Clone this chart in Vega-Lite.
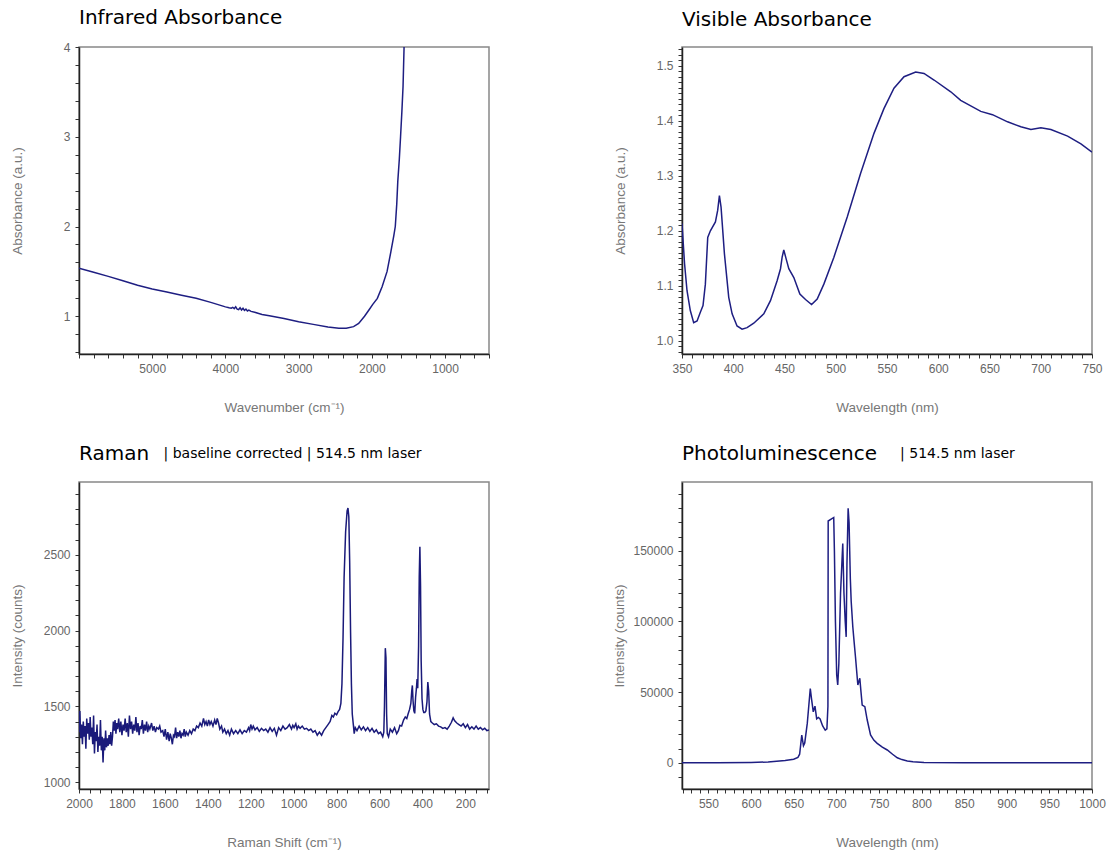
{
"$schema": "https://vega.github.io/schema/vega-lite/v6.json",
"background": "white",
"padding": {"left": 9, "top": 7, "right": 4, "bottom": 4},
"columns": 2,
"bounds": "flush",
"spacing": {"row": 128, "column": 193},
"datasets": {
"ir": [
{"wavenumber":6000,"absorbance":1.535},{"wavenumber":5800,"absorbance":1.49},{"wavenumber":5600,"absorbance":1.445},{"wavenumber":5400,"absorbance":1.395},{"wavenumber":5200,"absorbance":1.345},{"wavenumber":5000,"absorbance":1.305},{"wavenumber":4800,"absorbance":1.27},{"wavenumber":4600,"absorbance":1.235},{"wavenumber":4400,"absorbance":1.2},{"wavenumber":4200,"absorbance":1.155},{"wavenumber":4000,"absorbance":1.105},{"wavenumber":3950,"absorbance":1.095},{"wavenumber":3920,"absorbance":1.09},{"wavenumber":3900,"absorbance":1.1},{"wavenumber":3880,"absorbance":1.085},{"wavenumber":3860,"absorbance":1.105},{"wavenumber":3840,"absorbance":1.08},{"wavenumber":3820,"absorbance":1.075},{"wavenumber":3800,"absorbance":1.095},{"wavenumber":3780,"absorbance":1.07},{"wavenumber":3760,"absorbance":1.09},{"wavenumber":3740,"absorbance":1.065},{"wavenumber":3720,"absorbance":1.08},{"wavenumber":3700,"absorbance":1.06},{"wavenumber":3680,"absorbance":1.07},{"wavenumber":3650,"absorbance":1.055},{"wavenumber":3600,"absorbance":1.045},{"wavenumber":3500,"absorbance":1.02},{"wavenumber":3400,"absorbance":1.005},{"wavenumber":3200,"absorbance":0.975},{"wavenumber":3000,"absorbance":0.94},{"wavenumber":2800,"absorbance":0.91},{"wavenumber":2600,"absorbance":0.88},{"wavenumber":2450,"absorbance":0.866},{"wavenumber":2350,"absorbance":0.866},{"wavenumber":2250,"absorbance":0.885},{"wavenumber":2180,"absorbance":0.92},{"wavenumber":2100,"absorbance":1.0},{"wavenumber":2040,"absorbance":1.07},{"wavenumber":1990,"absorbance":1.13},{"wavenumber":1925,"absorbance":1.2},{"wavenumber":1860,"absorbance":1.33},{"wavenumber":1792,"absorbance":1.5},{"wavenumber":1740,"absorbance":1.72},{"wavenumber":1700,"absorbance":1.9},{"wavenumber":1680,"absorbance":2.0},{"wavenumber":1660,"absorbance":2.25},{"wavenumber":1646,"absorbance":2.5},{"wavenumber":1625,"absorbance":2.75},{"wavenumber":1608,"absorbance":3.0},{"wavenumber":1590,"absorbance":3.28},{"wavenumber":1574,"absorbance":3.56},{"wavenumber":1560,"absorbance":4.0}
],
"vis": [
{"wavelength":350,"absorbance":1.213},{"wavelength":352.5,"absorbance":1.14},{"wavelength":354.9,"absorbance":1.091},{"wavelength":358.1,"absorbance":1.055},{"wavelength":361.4,"absorbance":1.033},{"wavelength":364.7,"absorbance":1.036},{"wavelength":367.9,"absorbance":1.052},{"wavelength":370.5,"absorbance":1.064},{"wavelength":372.8,"absorbance":1.103},{"wavelength":375.1,"absorbance":1.188},{"wavelength":377.7,"absorbance":1.2},{"wavelength":382.6,"absorbance":1.216},{"wavelength":384.8,"absorbance":1.237},{"wavelength":386.5,"absorbance":1.264},{"wavelength":388.1,"absorbance":1.243},{"wavelength":391.4,"absorbance":1.158},{"wavelength":395.6,"absorbance":1.079},{"wavelength":398.9,"absorbance":1.049},{"wavelength":403.7,"absorbance":1.027},{"wavelength":408.6,"absorbance":1.021},{"wavelength":413.5,"absorbance":1.024},{"wavelength":420,"absorbance":1.032},{"wavelength":429.8,"absorbance":1.049},{"wavelength":436.3,"absorbance":1.073},{"wavelength":442.8,"absorbance":1.109},{"wavelength":446.1,"absorbance":1.131},{"wavelength":447.7,"absorbance":1.152},{"wavelength":449.3,"absorbance":1.165},{"wavelength":451.6,"absorbance":1.149},{"wavelength":454.2,"absorbance":1.131},{"wavelength":459.1,"absorbance":1.115},{"wavelength":465,"absorbance":1.085},{"wavelength":470.5,"absorbance":1.075},{"wavelength":476.4,"absorbance":1.066},{"wavelength":481.9,"absorbance":1.076},{"wavelength":488.4,"absorbance":1.103},{"wavelength":498.2,"absorbance":1.152},{"wavelength":511.2,"absorbance":1.225},{"wavelength":524.2,"absorbance":1.304},{"wavelength":537.3,"absorbance":1.377},{"wavelength":547,"absorbance":1.422},{"wavelength":556.8,"absorbance":1.459},{"wavelength":566.6,"absorbance":1.48},{"wavelength":578,"absorbance":1.4885},{"wavelength":586.1,"absorbance":1.486},{"wavelength":595.9,"absorbance":1.474},{"wavelength":612.2,"absorbance":1.4526},{"wavelength":621.9,"absorbance":1.437},{"wavelength":641.5,"absorbance":1.417},{"wavelength":652.9,"absorbance":1.411},{"wavelength":667.6,"absorbance":1.398},{"wavelength":680.6,"absorbance":1.389},{"wavelength":690.4,"absorbance":1.384},{"wavelength":700.1,"absorbance":1.387},{"wavelength":709.9,"absorbance":1.384},{"wavelength":726.2,"absorbance":1.372},{"wavelength":739.2,"absorbance":1.358},{"wavelength":750,"absorbance":1.343}
],
"raman": [
{"shift":2000,"counts":1330},{"shift":1996,"counts":1470},{"shift":1992,"counts":1290},{"shift":1988,"counts":1380},{"shift":1984,"counts":1250},{"shift":1980,"counts":1400},{"shift":1976,"counts":1300},{"shift":1972,"counts":1370},{"shift":1968,"counts":1220},{"shift":1964,"counts":1420},{"shift":1960,"counts":1320},{"shift":1956,"counts":1390},{"shift":1952,"counts":1280},{"shift":1948,"counts":1430},{"shift":1944,"counts":1300},{"shift":1940,"counts":1360},{"shift":1936,"counts":1250},{"shift":1932,"counts":1440},{"shift":1928,"counts":1190},{"shift":1924,"counts":1330},{"shift":1920,"counts":1270},{"shift":1916,"counts":1380},{"shift":1912,"counts":1200},{"shift":1908,"counts":1300},{"shift":1904,"counts":1240},{"shift":1900,"counts":1410},{"shift":1896,"counts":1210},{"shift":1892,"counts":1300},{"shift":1888,"counts":1130},{"shift":1884,"counts":1290},{"shift":1880,"counts":1210},{"shift":1876,"counts":1340},{"shift":1872,"counts":1230},{"shift":1868,"counts":1290},{"shift":1864,"counts":1240},{"shift":1860,"counts":1310},{"shift":1856,"counts":1250},{"shift":1852,"counts":1330},{"shift":1848,"counts":1240},{"shift":1844,"counts":1300},{"shift":1840,"counts":1400},{"shift":1836,"counts":1340},{"shift":1832,"counts":1410},{"shift":1828,"counts":1320},{"shift":1824,"counts":1390},{"shift":1820,"counts":1350},{"shift":1815,"counts":1420},{"shift":1810,"counts":1330},{"shift":1805,"counts":1400},{"shift":1800,"counts":1310},{"shift":1795,"counts":1380},{"shift":1790,"counts":1340},{"shift":1785,"counts":1420},{"shift":1780,"counts":1330},{"shift":1775,"counts":1390},{"shift":1770,"counts":1300},{"shift":1765,"counts":1440},{"shift":1760,"counts":1350},{"shift":1755,"counts":1400},{"shift":1750,"counts":1320},{"shift":1745,"counts":1380},{"shift":1740,"counts":1340},{"shift":1735,"counts":1430},{"shift":1730,"counts":1330},{"shift":1725,"counts":1390},{"shift":1720,"counts":1310},{"shift":1715,"counts":1370},{"shift":1710,"counts":1350},{"shift":1705,"counts":1410},{"shift":1700,"counts":1320},{"shift":1695,"counts":1380},{"shift":1690,"counts":1340},{"shift":1685,"counts":1400},{"shift":1680,"counts":1330},{"shift":1675,"counts":1370},{"shift":1670,"counts":1350},{"shift":1662,"counts":1390},{"shift":1656,"counts":1340},{"shift":1650,"counts":1370},{"shift":1644,"counts":1330},{"shift":1638,"counts":1360},{"shift":1630,"counts":1350},{"shift":1624,"counts":1370},{"shift":1618,"counts":1330},{"shift":1610,"counts":1340},{"shift":1604,"counts":1300},{"shift":1598,"counts":1350},{"shift":1592,"counts":1280},{"shift":1586,"counts":1330},{"shift":1580,"counts":1270},{"shift":1575,"counts":1320},{"shift":1570,"counts":1290},{"shift":1565,"counts":1250},{"shift":1560,"counts":1310},{"shift":1555,"counts":1300},{"shift":1550,"counts":1360},{"shift":1545,"counts":1290},{"shift":1540,"counts":1330},{"shift":1535,"counts":1300},{"shift":1530,"counts":1340},{"shift":1525,"counts":1290},{"shift":1520,"counts":1320},{"shift":1515,"counts":1310},{"shift":1510,"counts":1350},{"shift":1505,"counts":1300},{"shift":1500,"counts":1330},{"shift":1492,"counts":1310},{"shift":1484,"counts":1340},{"shift":1476,"counts":1320},{"shift":1468,"counts":1350},{"shift":1460,"counts":1340},{"shift":1452,"counts":1370},{"shift":1444,"counts":1360},{"shift":1436,"counts":1390},{"shift":1428,"counts":1370},{"shift":1420,"counts":1420},{"shift":1414,"counts":1380},{"shift":1408,"counts":1400},{"shift":1402,"counts":1370},{"shift":1396,"counts":1410},{"shift":1390,"counts":1380},{"shift":1384,"counts":1400},{"shift":1376,"counts":1370},{"shift":1368,"counts":1410},{"shift":1362,"counts":1380},{"shift":1356,"counts":1420},{"shift":1350,"counts":1390},{"shift":1344,"counts":1350},{"shift":1336,"counts":1370},{"shift":1330,"counts":1330},{"shift":1322,"counts":1350},{"shift":1314,"counts":1320},{"shift":1306,"counts":1340},{"shift":1298,"counts":1310},{"shift":1290,"counts":1350},{"shift":1280,"counts":1320},{"shift":1270,"counts":1340},{"shift":1260,"counts":1320},{"shift":1250,"counts":1345},{"shift":1240,"counts":1320},{"shift":1230,"counts":1340},{"shift":1220,"counts":1330},{"shift":1210,"counts":1360},{"shift":1205,"counts":1340},{"shift":1200,"counts":1380},{"shift":1194,"counts":1350},{"shift":1188,"counts":1370},{"shift":1180,"counts":1345},{"shift":1170,"counts":1360},{"shift":1160,"counts":1335},{"shift":1150,"counts":1355},{"shift":1140,"counts":1340},{"shift":1130,"counts":1350},{"shift":1120,"counts":1330},{"shift":1110,"counts":1360},{"shift":1100,"counts":1335},{"shift":1090,"counts":1355},{"shift":1080,"counts":1310},{"shift":1070,"counts":1360},{"shift":1060,"counts":1340},{"shift":1050,"counts":1370},{"shift":1040,"counts":1350},{"shift":1030,"counts":1360},{"shift":1020,"counts":1380},{"shift":1010,"counts":1350},{"shift":1004,"counts":1375},{"shift":998,"counts":1360},{"shift":990,"counts":1385},{"shift":984,"counts":1350},{"shift":978,"counts":1370},{"shift":970,"counts":1355},{"shift":960,"counts":1370},{"shift":950,"counts":1350},{"shift":940,"counts":1355},{"shift":930,"counts":1340},{"shift":920,"counts":1350},{"shift":910,"counts":1330},{"shift":900,"counts":1340},{"shift":890,"counts":1310},
{"shift":880,"counts":1330},{"shift":870,"counts":1310},{"shift":860,"counts":1340},{"shift":850,"counts":1360},{"shift":840,"counts":1380},{"shift":830,"counts":1400},{"shift":822,"counts":1440},{"shift":815,"counts":1430},{"shift":808,"counts":1455},{"shift":800,"counts":1445},{"shift":793,"counts":1465},{"shift":786,"counts":1480},{"shift":780,"counts":1520},{"shift":775,"counts":1650},{"shift":770,"counts":1950},{"shift":765,"counts":2350},{"shift":758,"counts":2650},{"shift":751,"counts":2790},{"shift":747,"counts":2808},{"shift":743,"counts":2750},{"shift":739,"counts":2450},{"shift":735,"counts":2000},{"shift":731,"counts":1650},{"shift":727,"counts":1450},{"shift":722,"counts":1380},{"shift":718,"counts":1320},{"shift":713,"counts":1360},{"shift":705,"counts":1340},{"shift":695,"counts":1370},{"shift":685,"counts":1345},{"shift":675,"counts":1365},{"shift":665,"counts":1340},{"shift":655,"counts":1360},{"shift":645,"counts":1335},{"shift":635,"counts":1355},{"shift":625,"counts":1330},{"shift":615,"counts":1345},{"shift":605,"counts":1320},{"shift":595,"counts":1330},{"shift":585,"counts":1300},{"shift":580,"counts":1330},{"shift":577,"counts":1500},{"shift":573,"counts":1884},{"shift":570,"counts":1820},{"shift":567,"counts":1450},{"shift":564,"counts":1320},{"shift":558,"counts":1300},{"shift":550,"counts":1350},{"shift":540,"counts":1330},{"shift":530,"counts":1360},{"shift":520,"counts":1320},{"shift":512,"counts":1340},{"shift":505,"counts":1375},{"shift":497,"counts":1370},{"shift":488,"counts":1410},{"shift":480,"counts":1430},{"shift":473,"counts":1420},{"shift":467,"counts":1450},{"shift":460,"counts":1480},{"shift":454,"counts":1520},{"shift":450,"counts":1600},{"shift":447,"counts":1638},{"shift":444,"counts":1540},{"shift":440,"counts":1470},{"shift":436,"counts":1454},{"shift":432,"counts":1560},{"shift":428,"counts":1620},{"shift":425,"counts":1680},{"shift":422,"counts":1620},{"shift":418,"counts":1900},{"shift":415,"counts":2350},{"shift":412,"counts":2553},{"shift":409,"counts":2300},{"shift":406,"counts":1800},{"shift":402,"counts":1550},{"shift":398,"counts":1480},{"shift":394,"counts":1460},{"shift":389,"counts":1460},{"shift":384,"counts":1470},{"shift":379,"counts":1530},{"shift":375,"counts":1660},{"shift":371,"counts":1600},{"shift":367,"counts":1450},{"shift":361,"counts":1400},{"shift":354,"counts":1390},{"shift":345,"counts":1380},{"shift":335,"counts":1385},{"shift":325,"counts":1370},{"shift":315,"counts":1365},{"shift":305,"counts":1355},{"shift":295,"counts":1360},{"shift":285,"counts":1350},{"shift":275,"counts":1370},{"shift":265,"counts":1395},{"shift":257,"counts":1424},{"shift":250,"counts":1405},{"shift":240,"counts":1390},{"shift":230,"counts":1380},{"shift":220,"counts":1370},{"shift":210,"counts":1385},{"shift":200,"counts":1360},{"shift":190,"counts":1380},{"shift":180,"counts":1350},{"shift":170,"counts":1365},{"shift":160,"counts":1350},{"shift":150,"counts":1370},{"shift":140,"counts":1350},{"shift":130,"counts":1360},{"shift":120,"counts":1345},{"shift":110,"counts":1355},{"shift":100,"counts":1340},{"shift":90,"counts":1345}
],
"pl": [
{"wavelength":519,"counts":0},{"wavelength":560,"counts":0},{"wavelength":600,"counts":200},{"wavelength":620,"counts":500},{"wavelength":640,"counts":1500},{"wavelength":650,"counts":2500},{"wavelength":655,"counts":3800},{"wavelength":657,"counts":6000},{"wavelength":659.5,"counts":19500},{"wavelength":661.5,"counts":12000},{"wavelength":663,"counts":14000},{"wavelength":666,"counts":28000},{"wavelength":669.5,"counts":52500},{"wavelength":671,"counts":45000},{"wavelength":673,"counts":36000},{"wavelength":675,"counts":40000},{"wavelength":677,"counts":31000},{"wavelength":679,"counts":32000},{"wavelength":681,"counts":31000},{"wavelength":684,"counts":26000},{"wavelength":687,"counts":23000},{"wavelength":689,"counts":24000},{"wavelength":690.2,"counts":40000},{"wavelength":690.5,"counts":171000},{"wavelength":697,"counts":173500},{"wavelength":697.8,"counts":150000},{"wavelength":699,"counts":100000},{"wavelength":700.5,"counts":62000},{"wavelength":701.7,"counts":55000},{"wavelength":703,"counts":70000},{"wavelength":705,"counts":120000},{"wavelength":706.5,"counts":140000},{"wavelength":707.6,"counts":155000},{"wavelength":709,"counts":120000},{"wavelength":710.5,"counts":100000},{"wavelength":711.6,"counts":89000},{"wavelength":712.5,"counts":140000},{"wavelength":713.9,"counts":180000},{"wavelength":715,"counts":170000},{"wavelength":716.5,"counts":130000},{"wavelength":717.5,"counts":114000},{"wavelength":719.4,"counts":96000},{"wavelength":721,"counts":85000},{"wavelength":722.5,"counts":75000},{"wavelength":725.3,"counts":55000},{"wavelength":727.6,"counts":59700},{"wavelength":729,"counts":50000},{"wavelength":730.4,"counts":40800},{"wavelength":733.5,"counts":39600},{"wavelength":736.3,"counts":30200},{"wavelength":740.2,"counts":19600},{"wavelength":744,"counts":16000},{"wavelength":748,"counts":13700},{"wavelength":754,"counts":11000},{"wavelength":759.8,"counts":9000},{"wavelength":766,"counts":6000},{"wavelength":771.6,"counts":3500},{"wavelength":777,"counts":2200},{"wavelength":783.3,"counts":1200},{"wavelength":790,"counts":600},{"wavelength":803,"counts":100},{"wavelength":850,"counts":0},{"wavelength":1000,"counts":0}
]
},
"concat": [
{
"title": {"text": "Infrared Absorbance", "offset": 13},
"width": 410, "height": 307,
"data": {"name": "ir"},
"mark": {"type": "line", "stroke": "#1e1e82", "strokeWidth": 1.5, "clip": true},
"encoding": {
"x": {"field": "wavenumber", "type": "quantitative", "scale": {"domain": [400, 6000], "reverse": true, "nice": false, "zero": false},
 "axis": {"title": "Wavenumber (cm⁻¹)", "values": [400,600,800,1000,1200,1400,1600,1800,2000,2200,2400,2600,2800,3000,3200,3400,3600,3800,4000,4200,4400,4600,4800,5000,5200,5400,5600,5800,6000], "labelExpr": "datum.value % 1000 === 0 && datum.value >= 1000 && datum.value <= 5000 ? format(datum.value, 'd') : ''", "titlePadding": 26}},
"y": {"field": "absorbance", "type": "quantitative", "scale": {"domain": [0.58, 4], "nice": false, "zero": false},
 "axis": {"title": "Absorbance (a.u.)", "values": [0.6,0.8,1,1.2,1.4,1.6,1.8,2,2.2,2.4,2.6,2.8,3,3.2,3.4,3.6,3.8,4], "labelExpr": "abs(datum.value - round(datum.value)) < 0.000001 ? format(datum.value, 'd') : ''", "titlePadding": 39}}
}
},
{
"title": {"text": "Visible Absorbance", "offset": 13},
"width": 410, "height": 307,
"data": {"name": "vis"},
"mark": {"type": "line", "stroke": "#1e1e82", "strokeWidth": 1.5, "clip": true},
"encoding": {
"x": {"field": "wavelength", "type": "quantitative", "scale": {"domain": [350, 750], "nice": false, "zero": false},
 "axis": {"title": "Wavelength (nm)", "values": [350,360,370,380,390,400,410,420,430,440,450,460,470,480,490,500,510,520,530,540,550,560,570,580,590,600,610,620,630,640,650,660,670,680,690,700,710,720,730,740,750], "labelExpr": "datum.value % 50 === 0 ? format(datum.value, 'd') : ''", "titlePadding": 26}},
"y": {"field": "absorbance", "type": "quantitative", "scale": {"domain": [0.976, 1.534], "nice": false, "zero": false},
 "axis": {"title": "Absorbance (a.u.)", "values": [0.98,0.99,1.0,1.01,1.02,1.03,1.04,1.05,1.06,1.07,1.08,1.09,1.1,1.11,1.12,1.13,1.14,1.15,1.16,1.17,1.18,1.19,1.2,1.21,1.22,1.23,1.24,1.25,1.26,1.27,1.28,1.29,1.3,1.31,1.32,1.33,1.34,1.35,1.36,1.37,1.38,1.39,1.4,1.41,1.42,1.43,1.44,1.45,1.46,1.47,1.48,1.49,1.5,1.51,1.52,1.53], "labelExpr": "abs(datum.value * 10 - round(datum.value * 10)) < 0.000001 ? format(datum.value, '.1f') : ''", "titlePadding": 29}}
}
},
{
"title": {"text": "Raman", "subtitle": "\u200b\u00a0\u00a0\u00a0\u00a0\u00a0\u00a0\u00a0\u00a0\u00a0\u00a0\u00a0\u00a0\u00a0\u00a0\u00a0\u00a0\u00a0\u00a0\u00a0| baseline corrected | 514.5 nm laser", "offset": 18},
"width": 410, "height": 307,
"data": {"name": "raman"},
"mark": {"type": "line", "stroke": "#1a1a7a", "strokeWidth": 1.5, "clip": true},
"encoding": {
"x": {"field": "shift", "type": "quantitative", "scale": {"domain": [90, 2000], "reverse": true, "nice": false, "zero": false},
 "axis": {"title": "Raman Shift (cm⁻¹)", "values": [100,150,200,250,300,350,400,450,500,550,600,650,700,750,800,850,900,950,1000,1050,1100,1150,1200,1250,1300,1350,1400,1450,1500,1550,1600,1650,1700,1750,1800,1850,1900,1950,2000], "labelExpr": "datum.value % 200 === 0 ? format(datum.value, 'd') : ''", "titlePadding": 26}},
"y": {"field": "counts", "type": "quantitative", "scale": {"domain": [955, 2980], "nice": false, "zero": false},
 "axis": {"title": "Intensity (counts)", "values": [1000,1100,1200,1300,1400,1500,1600,1700,1800,1900,2000,2100,2200,2300,2400,2500,2600,2700,2800,2900], "labelExpr": "datum.value % 500 === 0 ? format(datum.value, 'd') : ''", "titlePadding": 19}}
}
},
{
"title": {"text": "Photoluminescence", "subtitle": "\u200b\u00a0\u00a0\u00a0\u00a0\u00a0\u00a0\u00a0\u00a0\u00a0\u00a0\u00a0\u00a0\u00a0\u00a0\u00a0\u00a0\u00a0\u00a0\u00a0\u00a0\u00a0\u00a0\u00a0\u00a0\u00a0\u00a0\u00a0\u00a0\u00a0\u00a0\u00a0\u00a0\u00a0\u00a0\u00a0\u00a0\u00a0\u00a0\u00a0\u00a0\u00a0\u00a0\u00a0\u00a0\u00a0\u00a0\u00a0\u00a0\u00a0| 514.5 nm laser", "offset": 18},
"width": 410, "height": 307,
"data": {"name": "pl"},
"mark": {"type": "line", "stroke": "#1e1e82", "strokeWidth": 1.5, "clip": true},
"encoding": {
"x": {"field": "wavelength", "type": "quantitative", "scale": {"domain": [519, 1000], "nice": false, "zero": false},
 "axis": {"title": "Wavelength (nm)", "values": [520,530,540,550,560,570,580,590,600,610,620,630,640,650,660,670,680,690,700,710,720,730,740,750,760,770,780,790,800,810,820,830,840,850,860,870,880,890,900,910,920,930,940,950,960,970,980,990,1000], "labelExpr": "datum.value % 50 === 0 && datum.value >= 550 ? format(datum.value, 'd') : ''", "titlePadding": 26}},
"y": {"field": "counts", "type": "quantitative", "scale": {"domain": [-18600, 198600], "nice": false, "zero": false},
 "axis": {"title": "Intensity (counts)", "values": [-10000,0,10000,20000,30000,40000,50000,60000,70000,80000,90000,100000,110000,120000,130000,140000,150000,160000,170000,180000,190000], "labelExpr": "datum.value % 50000 === 0 && datum.value >= 0 ? format(datum.value, 'd') : ''", "titlePadding": 6}}
}
}
],
"config": {
"view": {"stroke": "#888888", "strokeWidth": 1.5},
"axis": {"grid": false, "domainColor": "#222222", "domainWidth": 1.5, "tickColor": "#333333", "tickSize": 4, "tickWidth": 1, "labelFont": "Liberation Sans", "labelFontSize": 12, "labelColor": "#666666", "labelPadding": 5, "labelOverlap": false, "labelFlush": false, "titleFont": "Liberation Sans", "titleFontSize": 13.5, "titleFontWeight": "normal", "titleColor": "#777777"},
"title": {"anchor": "start", "frame": "group", "font": "DejaVu Sans", "fontSize": 20, "fontWeight": "normal", "color": "#000000", "offset": 12, "subtitleFont": "DejaVu Sans", "subtitleFontSize": 14, "subtitleColor": "#000000", "subtitlePadding": -17}
}
}
